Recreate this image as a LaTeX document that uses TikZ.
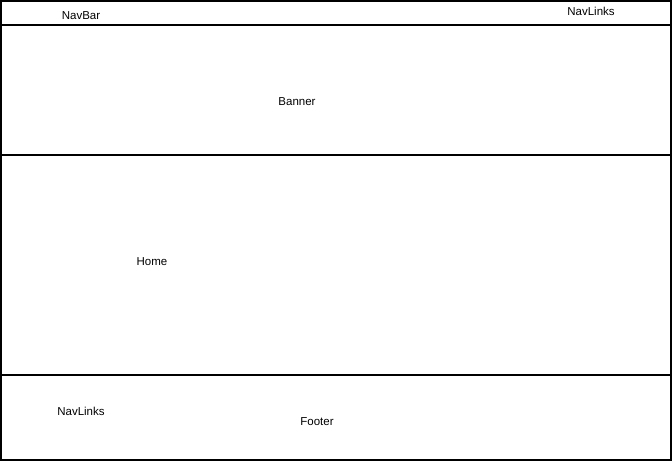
\documentclass[tikz,border=0pt]{standalone}
\usepackage{fontspec}
\setmainfont{Liberation Sans}
\begin{document}
\begin{tikzpicture}[x=1pt,y=-1pt,
  region/.style={draw=black,line width=1.2pt},
  lbl/.style={font=\fontsize{11.5}{13}\selectfont,inner sep=0pt,anchor=center}]
\useasboundingbox (0,0) rectangle (672,461);
\draw[region] (1,1) rectangle (671,25);
\draw[region] (1,25) rectangle (671,155);
\draw[region] (1,155) rectangle (671,375);
\draw[region] (1,375) rectangle (671,460);
\node[lbl] (navbar) at (81,15.5) {NavBar};
\node[lbl] (navlinks1) at (591,11.5) {NavLinks};
\node[lbl] (banner) at (297,101.5) {Banner};
\node[lbl] (home) at (152,261.5) {Home};
\node[lbl] (navlinks2) at (81,411.5) {NavLinks};
\node[lbl] (footer) at (317,421.5) {Footer};
\end{tikzpicture}
\end{document}
